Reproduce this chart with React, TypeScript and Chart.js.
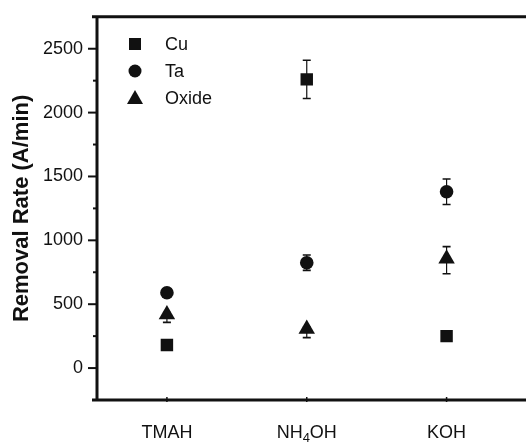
import React, { useEffect, useRef } from "react";
import { Chart, registerables } from "chart.js";

Chart.register(...registerables);

const categories = ["TMAH", "NH4OH", "KOH"];
const seriesNames = ["Cu", "Ta", "Oxide"];
const cuValues = [180, 2260, 250];
const cuErrPlus = [15, 150, 15];
const cuErrMinus = [15, 150, 15];
const taValues = [590, 825, 1380];
const taErrPlus = [20, 60, 100];
const taErrMinus = [20, 60, 100];
const oxideValues = [420, 305, 856];
const oxideErrPlus = [15, 15, 95];
const oxideErrMinus = [62, 67, 118];
const yTickValues = [0, 500, 1000, 1500, 2000, 2500];

const FONT = "'Liberation Sans', Arial, Helvetica, sans-serif";
const INK = "#111111";

const errorBarPlugin = {
  id: "errorBars",
  beforeDatasetsDraw(chart: any) {
    const ctx = chart.ctx;
    const xs = chart.scales.x;
    const ys = chart.scales.y;
    ctx.save();
    ctx.strokeStyle = INK;
    chart.data.datasets.forEach((ds: any) => {
      const plus: number[] = ds.errPlus || [];
      const minus: number[] = ds.errMinus || [];
      ds.data.forEach((pt: any, i: number) => {
        const ep = plus[i] || 0;
        const em = minus[i] || 0;
        if (!ep && !em) return;
        const px = xs.getPixelForValue(pt.x);
        const top = ys.getPixelForValue(pt.y + ep);
        const bot = ys.getPixelForValue(pt.y - em);
        ctx.lineWidth = 1.2;
        ctx.beginPath();
        ctx.moveTo(px, top);
        ctx.lineTo(px, bot);
        ctx.stroke();
        ctx.lineWidth = 1.6;
        ctx.beginPath();
        ctx.moveTo(px - 4, top);
        ctx.lineTo(px + 4, top);
        ctx.moveTo(px - 4, bot);
        ctx.lineTo(px + 4, bot);
        ctx.stroke();
      });
    });
    ctx.restore();
  },
};

// draws a label, rendering digits in chemical formulas as subscripts
function drawFormula(ctx: CanvasRenderingContext2D, text: string, cx: number, y: number) {
  const parts = text.split(/(\d+)/).filter((p) => p.length > 0);
  const big = `18px ${FONT}`;
  const small = `13px ${FONT}`;
  let total = 0;
  parts.forEach((p) => {
    ctx.font = /^\d+$/.test(p) ? small : big;
    total += ctx.measureText(p).width;
  });
  let x = cx - total / 2;
  parts.forEach((p) => {
    const sub = /^\d+$/.test(p);
    ctx.font = sub ? small : big;
    ctx.fillText(p, x, sub ? y + 4 : y);
    x += ctx.measureText(p).width;
  });
}

const framePlugin = {
  id: "frame",
  afterDraw(chart: any) {
    const ctx = chart.ctx;
    const { left, top, bottom } = chart.chartArea;
    const ys = chart.scales.y;
    const xs = chart.scales.x;
    ctx.save();
    ctx.strokeStyle = INK;
    ctx.lineWidth = 3;
    ctx.beginPath();
    ctx.moveTo(left - 5, top);
    ctx.lineTo(chart.width, top);
    ctx.moveTo(left - 5, bottom);
    ctx.lineTo(chart.width, bottom);
    ctx.moveTo(left, top);
    ctx.lineTo(left, bottom);
    ctx.stroke();
    // y ticks
    ctx.lineWidth = 2;
    ys.ticks.forEach((t: any) => {
      if (t.value <= ys.min || t.value >= ys.max) return;
      const py = ys.getPixelForValue(t.value);
      const major = yTickValues.includes(t.value);
      ctx.beginPath();
      ctx.moveTo(left - (major ? 9 : 4), py);
      ctx.lineTo(left, py);
      ctx.stroke();
    });
    // small x ticks
    ctx.lineWidth = 1.5;
    categories.forEach((_, i) => {
      const px = xs.getPixelForValue(i);
      ctx.beginPath();
      ctx.moveTo(px, bottom - 3);
      ctx.lineTo(px, bottom + 2);
      ctx.stroke();
    });
    // x category labels
    ctx.fillStyle = INK;
    ctx.textBaseline = "alphabetic";
    ctx.textAlign = "left";
    categories.forEach((c, i) => {
      drawFormula(ctx, c, xs.getPixelForValue(i), 438);
    });
    // legend
    const legendX = 135;
    const textX = 165;
    const rows = [44, 71, 98];
    ctx.font = `18px ${FONT}`;
    ctx.textBaseline = "middle";
    chart.data.datasets.forEach((ds: any, i: number) => {
      const y = rows[i];
      ctx.beginPath();
      if (ds.pointStyle === "rect") {
        ctx.rect(legendX - 6, y - 6, 12, 12);
      } else if (ds.pointStyle === "circle") {
        ctx.arc(legendX, y, 6.5, 0, Math.PI * 2);
      } else {
        ctx.moveTo(legendX, y - 8);
        ctx.lineTo(legendX + 8, y + 6);
        ctx.lineTo(legendX - 8, y + 6);
        ctx.closePath();
      }
      ctx.fill();
      ctx.fillText(ds.label, textX, y + 1);
    });
    ctx.restore();
  },
};

export default function App() {
  const ref = useRef<HTMLCanvasElement | null>(null);
  useEffect(() => {
    document.body.style.margin = "0";
    const mk = (vals: number[]) => vals.map((v, i) => ({ x: i, y: v }));
    const chart = new Chart(ref.current as HTMLCanvasElement, {
      type: "scatter",
      data: {
        datasets: [
          {
            label: seriesNames[0],
            data: mk(cuValues),
            errPlus: cuErrPlus,
            errMinus: cuErrMinus,
            pointStyle: "rect",
            pointRadius: 8.8,
            backgroundColor: INK,
            borderWidth: 0,
          } as any,
          {
            label: seriesNames[1],
            data: mk(taValues),
            errPlus: taErrPlus,
            errMinus: taErrMinus,
            pointStyle: "circle",
            pointRadius: 6.8,
            backgroundColor: INK,
            borderWidth: 0,
          } as any,
          {
            label: seriesNames[2],
            data: mk(oxideValues),
            errPlus: oxideErrPlus,
            errMinus: oxideErrMinus,
            pointStyle: "triangle",
            pointRadius: 9.5,
            backgroundColor: INK,
            borderWidth: 0,
          } as any,
        ],
      },
      options: {
        animation: false,
        responsive: false,
        events: [],
        layout: { padding: { top: 10, right: 0, left: 0, bottom: 0 } },
        plugins: { legend: { display: false }, tooltip: { enabled: false } },
        scales: {
          x: {
            type: "linear",
            min: -0.5,
            max: 2.5,
            border: { display: false },
            grid: { display: false },
            afterBuildTicks(scale: any) {
              scale.ticks = categories.map((_, i) => ({ value: i }));
            },
            afterFit(scale: any) {
              scale.height = 44;
            },
            ticks: { display: false },
          },
          y: {
            min: -250,
            max: 2750,
            border: { display: false },
            grid: { display: false },
            afterFit(scale: any) {
              scale.width = 97;
            },
            ticks: {
              stepSize: 250,
              color: INK,
              padding: 6,
              font: { family: FONT, size: 18 },
              callback: (v: any) => (yTickValues.includes(v as number) ? String(v) : ""),
            },
            title: {
              display: true,
              text: "Removal Rate (A/min)",
              color: INK,
              font: { family: FONT, size: 22, weight: "bold" },
              padding: { top: 9, bottom: 0 },
            },
          },
        },
      } as any,
      plugins: [errorBarPlugin, framePlugin],
    });
    return () => chart.destroy();
  }, []);
  return (
    <div style={{ width: 526, height: 444 }}>
      <canvas ref={ref} width={526} height={444} style={{ display: "block" }} />
    </div>
  );
}
